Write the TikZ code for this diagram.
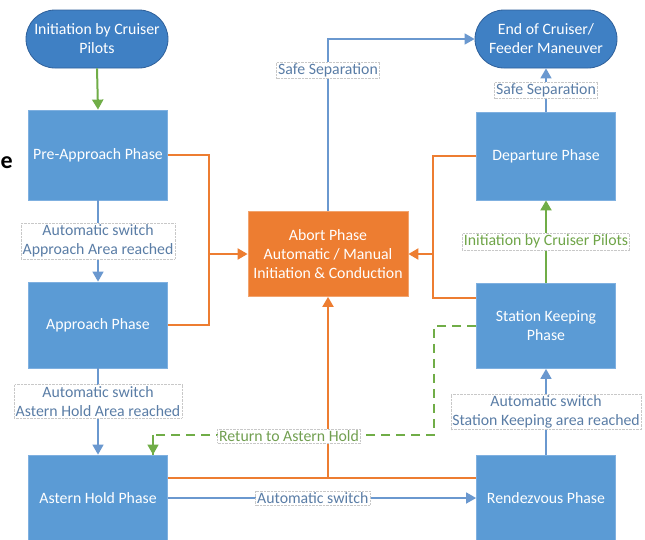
\documentclass[tikz,border=0pt]{standalone}
\usepackage{fontspec}
\setmainfont{Carlito}
\usetikzlibrary{arrows.meta,calc}
\definecolor{boxblue}{HTML}{5B9BD5}
\definecolor{boxedge}{HTML}{7FB0E0}
\definecolor{ovalblue}{HTML}{3F80C4}
\definecolor{ovaledge}{HTML}{2F609A}
\definecolor{abortor}{HTML}{ED7D31}
\definecolor{abortedge}{HTML}{F2A46E}
\definecolor{lineblue}{HTML}{6A98CF}
\definecolor{linegreen}{HTML}{70AD47}
\definecolor{lineor}{HTML}{ED7D31}
\definecolor{lbltext}{HTML}{5A7DA6}
\definecolor{lblgreen}{HTML}{6FA548}
\definecolor{lbledge}{HTML}{C8C8C8}
\tikzset{
  txt/.style={font=\fontsize{15.8}{19}\selectfont},
  phasebox/.style={txt, draw=boxedge, line width=0.8pt, fill=boxblue, text=white, align=center,
    minimum width=139pt, minimum height=86pt, inner sep=2pt},
  ovalbox/.style={txt, draw=ovaledge, line width=0.8pt, fill=ovalblue, text=white, align=center,
    minimum width=142pt, minimum height=58pt, rounded corners=29pt, inner sep=2pt},
  abortbox/.style={txt, draw=abortedge, line width=0.8pt, fill=abortor, text=white, align=center,
    minimum width=160pt, minimum height=85pt, inner sep=2pt},
  lbl/.style={txt, draw=lbledge, densely dotted, line width=0.4pt, fill=white, text=lbltext, align=center,
    inner sep=1.5pt},
  glbl/.style={lbl, text=lblgreen},
  tip/.style={-{Triangle[length=10pt,width=11pt]}},
  bline/.style={draw=lineblue, line width=1.6pt},
  gline/.style={draw=linegreen, line width=2pt},
  oline/.style={draw=lineor, line width=2pt},
  dline/.style={draw=linegreen, line width=1.6pt, dash pattern=on 9pt off 6pt},
}
\begin{document}
\begin{tikzpicture}[x=1pt,y=-1pt]
\clip (0,0) rectangle (645,539);
\fill[white] (0,0) rectangle (645,539);

% stray fragment of surrounding text
\node[anchor=base west, inner sep=0pt, font=\fontsize{24}{24}\selectfont\bfseries] (frag) at (0.5,168) {e};

% nodes
\node[ovalbox] (init) at (97,39) {Initiation by Cruiser\\Pilots};
\node[phasebox, minimum height=90pt] (pre) at (98,155) {Pre-Approach Phase};
\node[phasebox] (app) at (98,325) {Approach Phase};
\node[phasebox] (ast) at (98,498) {Astern Hold Phase};
\node[abortbox] (abort) at (328,254) {Abort Phase\\Automatic / Manual\\Initiation \& Conduction};
\node[ovalbox] (end) at (546,39) {End of Cruiser/\\Feeder Maneuver};
\node[phasebox, minimum height=88pt] (dep) at (546,156) {Departure Phase};
\node[phasebox, minimum height=85pt] (sk) at (546,326) {Station Keeping\\Phase};
\node[phasebox] (rdv) at (546,498) {Rendezvous Phase};

% junctions
\coordinate (jl) at (209,254);
\coordinate (jr) at (433,254);
\coordinate (jb) at (328,478);
\coordinate (dj) at (434,435);

% orange abort connections
\draw[oline] (pre.east) -| (jl) |- (app.east);
\draw[oline, tip] (jl) -- (abort.west);
\draw[oline] (dep.west) -| (jr) |- ([yshift=28pt]sk.west);
\draw[oline, tip] (jr) -- (abort.east);
\draw[oline] ([yshift=20pt]ast.east) -- ([yshift=20pt]rdv.west);
\draw[oline, tip] (jb) -- (abort.south);

% dashed return
\draw[dline] (sk.west) -| (dj) -| ([xshift=55pt]ast.north);
\draw[draw=linegreen, line width=1.6pt, tip] ([xshift=55pt,yshift=20pt]ast.north) -- ([xshift=55pt]ast.north);
\node[glbl, text=lblgreen!85!gray] (ret) at (289,436) {Return to Astern Hold};

% main flow
\draw[gline, tip] (init.south) -- (pre.north);
\draw[bline, tip] (pre.south) -- node[lbl] (l1) {Automatic switch\\Approach Area reached} (app.north);
\draw[bline, tip] (app.south) -- node[lbl, pos=0.38] (l2) {Automatic switch\\Astern Hold Area reached} (ast.north);
\draw[bline, tip] (ast.east) -- node[lbl, pos=0.47] (l3) {Automatic switch} (rdv.west);
\draw[bline, tip] (rdv.north) -- node[lbl] (l4) {Automatic switch\\Station Keeping area reached} (sk.south);
\draw[gline, tip] (sk.north) -- node[glbl] (l5) {Initiation by Cruiser Pilots} (dep.south);
\draw[bline, tip] (dep.north) -- node[lbl] (l6) {Safe Separation} (end.south);
\draw[bline, tip] (abort.north) |- node[lbl, pos=0.41] (l7) {Safe Separation} (end.west);
\end{tikzpicture}
\end{document}
